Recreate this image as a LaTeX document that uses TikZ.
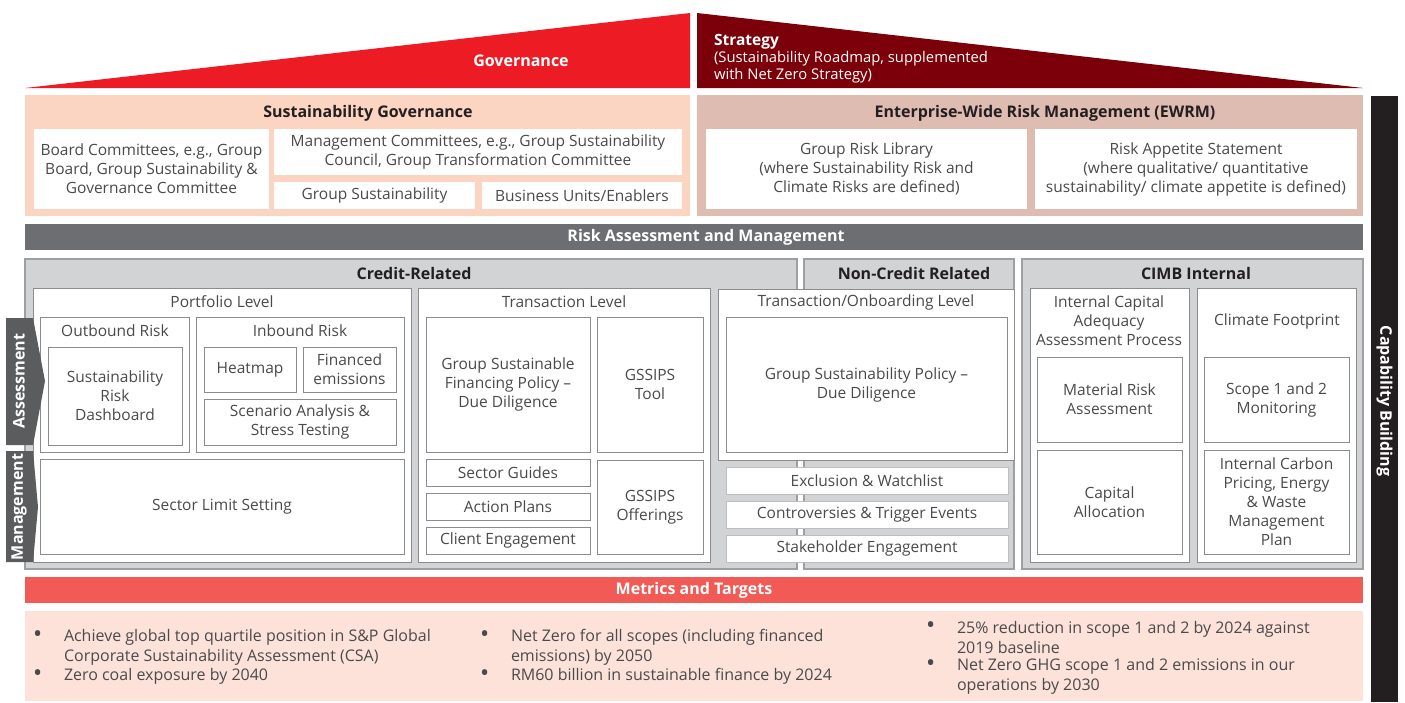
\documentclass[tikz,border=0pt]{standalone}
\usepackage{fontspec}
\setmainfont{Open Sans}
\definecolor{govred}{HTML}{ED1C24}
\definecolor{strred}{HTML}{7B0009}
\definecolor{peachA}{HTML}{FBD4C2}
\definecolor{pinkB}{HTML}{DFBCB2}
\definecolor{capbar}{HTML}{231F20}
\definecolor{riskbar}{HTML}{6D6E71}
\definecolor{gfill}{HTML}{D1D3D4}
\definecolor{gline}{HTML}{9D9FA2}
\definecolor{bline}{HTML}{8A8C8E}
\definecolor{lline}{HTML}{BCBEC0}
\definecolor{metbar}{HTML}{F15A55}
\definecolor{peachC}{HTML}{FDE2DA}
\definecolor{txt}{HTML}{4A4A4C}
\definecolor{dk}{HTML}{231F20}
\definecolor{chev}{HTML}{5B5C5E}
\newcommand\bodyf{\fontsize{15.5}{19}\selectfont}
\newcommand\ttlf{\fontsize{16}{19}\selectfont\bfseries}
\newcommand\bx[7]{\node[#6, minimum width={(#4-#2)*1pt}, minimum height={(#5-#3)*1pt}] (#1) at ({(#2+#4)/2},{(#3+#5)/2}) {#7};}
\tikzset{
  x=1pt, y=-1pt,
  every node/.style={inner sep=0pt, outer sep=0pt, align=center, text=txt, font=\bodyf},
  wbox/.style={draw=bline, fill=white, line width=1pt},
  lbox/.style={draw=lline, fill=white, line width=1pt},
  gbox/.style={draw=gline, fill=gfill, line width=1.2pt},
  plainbox/.style={fill=white},
  ttl/.style={font=\ttlf, text=dk},
  wttl/.style={font=\ttlf, text=white},
  bul/.style={anchor=west, align=left, font=\fontsize{16}{20}\selectfont},
  dot/.style={anchor=west, font=\fontsize{19}{19}\selectfont\bfseries},
}
\begin{document}
\begin{tikzpicture}
\useasboundingbox (0,0) rectangle (1405,702);
% top triangles
\fill[govred] (25,88) -- (690,13) -- (690,88) -- cycle;
\fill[strred] (697,13) -- (697,88) -- (1363,88) -- cycle;
\node[wttl] (govtxt) at (521,60.5) {Governance};
\node[anchor=west, align=left, text=white, font=\fontsize{14.8}{17}\selectfont] (strtxt) at (714,59) {\textbf{\fontsize{15.5}{17}\selectfont Strategy}\\(Sustainability Roadmap, supplemented\\with Net Zero Strategy)};
% governance row
\bx{sg}{25}{95}{690}{216}{fill=peachA}{}
\node[ttl] (sgt) at (368,113) {Sustainability Governance};
\bx{board}{34}{129}{269}{209}{plainbox}{Board Committees, e.g., Group\\Board, Group Sustainability \&\\Governance Committee}
\bx{mgmt}{274}{129}{682}{175}{plainbox}{Management Committees, e.g., Group Sustainability\\Council, Group Transformation Committee}
\bx{gsus}{274}{182}{475}{209}{plainbox}{Group Sustainability}
\bx{bue}{482}{182}{682}{209}{plainbox}{Business Units/Enablers}
\bx{ewrm}{697}{95}{1363}{216}{fill=pinkB}{}
\node[ttl] (ewrmt) at (1045,113) {Enterprise-Wide Risk Management (EWRM)};
\bx{grl}{706}{129}{1027}{209}{plainbox}{Group Risk Library\\(where Sustainability Risk and\\Climate Risks are defined)}
\bx{ras}{1035}{129}{1357}{209}{plainbox}{Risk Appetite Statement\\(where qualitative/ quantitative\\sustainability/ climate appetite is defined)}
% capability bar
\bx{cap}{1371}{96}{1398}{702}{fill=capbar}{}
\node[wttl, rotate=-90] (capt) at (1384.5,401) {Capability Building};
% risk bar
\bx{rab}{25}{224}{1363}{250}{fill=riskbar}{}
\node[wttl] (rabt) at (706,237) {Risk Assessment and Management};
% credit related
\bx{cr}{25}{259}{797}{569}{gbox}{}
\node[ttl] (crt) at (414,273) {Credit-Related};
\bx{ncr}{804}{259}{1014}{569}{gbox}{}
\node[ttl] (ncrt) at (914,273) {Non-Credit Related};
\bx{cimb}{1022}{259}{1363}{569}{gbox}{}
\node[ttl] (cimbt) at (1196,273) {CIMB Internal};
% portfolio level
\bx{pl}{33}{288}{411}{562}{wbox}{}
\node (plt) at (222,302) {Portfolio Level};
\bx{outb}{40}{317}{189}{452}{wbox}{}
\node (outbt) at (115,331) {Outbound Risk};
\bx{srd}{48}{347}{182}{445}{wbox}{Sustainability\\Risk\\Dashboard}
\bx{inb}{196}{317}{404}{452}{wbox}{}
\node (inbt) at (300,331) {Inbound Risk};
\bx{heat}{204}{347}{296}{392}{wbox}{Heatmap}
\bx{fine}{303}{347}{396}{392}{wbox}{Financed\\emissions}
\bx{scen}{204}{399}{396}{445}{wbox}{Scenario Analysis \&\\Stress Testing}
\bx{sls}{40}{459}{404}{554}{wbox}{Sector Limit Setting}
% transaction level
\bx{tl}{418}{288}{710}{562}{wbox}{}
\node (tlt) at (564,302) {Transaction Level};
\bx{gsfp}{426}{317}{590}{452}{wbox}{Group Sustainable\\Financing Policy --\\Due Diligence}
\bx{gtool}{597}{317}{703}{452}{wbox}{GSSIPS\\Tool}
\bx{sgd}{426}{459}{590}{486}{wbox}{Sector Guides}
\bx{apl}{426}{493}{590}{520}{wbox}{Action Plans}
\bx{ceng}{426}{527}{590}{554}{wbox}{Client Engagement}
\bx{goff}{597}{460}{703}{554}{wbox}{GSSIPS\\Offerings}
% transaction onboarding
\bx{tol}{718}{289}{1014}{460}{wbox}{}
\node (tolt) at (866,302) {Transaction/Onboarding Level};
\bx{gspd}{726}{317}{1007}{452}{wbox}{Group Sustainability Policy --\\Due Diligence}
\bx{exw}{726}{467}{1008}{494}{lbox}{Exclusion \& Watchlist}
\bx{ctr}{726}{501}{1008}{528}{lbox}{Controversies \& Trigger Events}
\bx{stk}{726}{535}{1008}{562}{lbox}{Stakeholder Engagement}
% CIMB internal
\bx{icaap}{1030}{288}{1189}{562}{wbox}{}
\node (icaapt) at (1109,321) {Internal Capital\\Adequacy\\Assessment Process};
\bx{mra}{1037}{357}{1182}{442}{wbox}{Material Risk\\Assessment}
\bx{cal}{1037}{450}{1182}{554}{wbox}{Capital\\Allocation}
\bx{clf}{1197}{288}{1356}{562}{wbox}{}
\node (clft) at (1277,321) {Climate Footprint};
\bx{s12}{1204}{357}{1349}{442}{wbox}{Scope 1 and 2\\Monitoring}
\bx{icp}{1204}{450}{1349}{554}{wbox}{Internal Carbon\\Pricing, Energy\\\& Waste\\Management\\Plan}
% chevrons
\fill[chev] (6,318) -- (33,318) -- (45,381) -- (33,445) -- (6,445) -- cycle;
\fill[chev] (6,451) -- (33,451) -- (38,507) -- (33,562) -- (6,562) -- cycle;
\node[wttl, rotate=90] (asst) at (19,381) {Assessment};
\node[wttl, rotate=90] (mgt) at (19,507) {Management};
% metrics
\bx{met}{25}{577}{1363}{603}{fill=metbar}{}
\node[wttl] (mett) at (694,590) {Metrics and Targets};
\bx{metb}{25}{611}{1363}{701}{fill=peachC}{}
\node[dot] (b1) at (34,636) {•};
\node[bul] (t1) at (64,647) {Achieve global top quartile position in S\&P Global\\Corporate Sustainability Assessment (CSA)};
\node[dot] (b2) at (34,675) {•};
\node[bul] (t2) at (64,676) {Zero coal exposure by 2040};
\node[dot] (b3) at (481,636) {•};
\node[bul] (t3) at (511,647) {Net Zero for all scopes (including financed\\emissions) by 2050};
\node[dot] (b4) at (481,675) {•};
\node[bul] (t4) at (511,676) {RM60 billion in sustainable finance by 2024};
\node[dot] (b5) at (927,627) {•};
\node[bul] (t5) at (957,637) {25\% reduction in scope 1 and 2 by 2024 against\\2019 baseline};
\node[dot] (b6) at (927,665) {•};
\node[bul] (t6) at (957,676) {Net Zero GHG scope 1 and 2 emissions in our\\operations by 2030};
\end{tikzpicture}
\end{document}
